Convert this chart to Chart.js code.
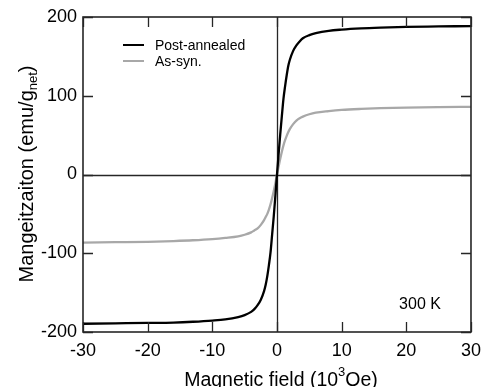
<!DOCTYPE html>
<html><head><meta charset="utf-8">
<script src="https://cdn.jsdelivr.net/npm/chart.js@4"></script>
<style>html,body{margin:0;padding:0;background:#fff}#wrap{width:489px;height:387px}</style>
</head><body><div id="wrap"><canvas id="c" width="489" height="387"></canvas></div>
<script>
const fields = [-30,-25,-20,-16,-13,-10,-8,-6,-5,-4,-3.5,-3,-2.5,-2,-1.75,-1.5,-1.25,-1,-0.75,-0.5,-0.25,0,0.25,0.5,0.75,1,1.25,1.5,1.75,2,2.5,3,3.5,4,5,6,8,10,13,16,20,25,30];
const postAnnealed = [-189.5,-189,-188.5,-188,-187,-185.5,-184,-181,-178.5,-174.5,-171,-166,-159,-148,-140,-129,-115,-99,-76,-53,-27,0,26,51,74,96,112,126,138,146,157,164,169,173,177,179.5,182.5,184,185.5,186.5,187.5,188,188.5];
const asSyn = [-86.5,-86,-85.5,-84.5,-83.5,-82,-80.5,-78.5,-76.5,-73.5,-71,-68.5,-64,-58,-54,-50,-44.5,-38,-30,-21,-11,0,10,20,29,37,43.5,49,54,58,64,68.5,71.5,73.5,76.5,78.5,80.5,82,83.3,84.2,85,85.6,86];
const seriesNames = ['Post-annealed','As-syn.'];
const xTicks = [-30,-20,-10,0,10,20,30];
const yTicks = [-200,-100,0,100,200];
const yTitleMain = 'Mangeitzaiton (emu/g', yTitleSub = 'net', yTitleEnd = ')';
const xTitleMain = 'Magnetic field (10', xTitleSup = '3', xTitleEnd = 'Oe)';
const annotation = '300 K';

const FONT = '"Liberation Sans", Arial, sans-serif';
const AX = '#262626';

const overlay = {
  id: 'overlay',
  beforeDatasetsDraw(chart) {
    const {ctx, chartArea: a, scales: {x, y}} = chart;
    ctx.save();
    ctx.strokeStyle = AX; ctx.lineWidth = 1.3;
    ctx.beginPath();
    const x0 = Math.round(x.getPixelForValue(0)) + 0.5;
    const y0 = Math.round(y.getPixelForValue(0)) + 0.5;
    ctx.moveTo(x0, a.top); ctx.lineTo(x0, a.bottom);
    ctx.moveTo(a.left, y0); ctx.lineTo(a.right, y0);
    ctx.stroke();
    ctx.restore();
  },
  afterDatasetsDraw(chart) {
    const {ctx, chartArea: a, scales: {x, y}} = chart;
    ctx.save();
    ctx.strokeStyle = AX; ctx.lineWidth = 1.3;
    const L = 10;
    ctx.beginPath();
    xTicks.forEach(v => {
      const px = Math.round(x.getPixelForValue(v)) + 0.5;
      ctx.moveTo(px, a.bottom); ctx.lineTo(px, a.bottom - L);
      ctx.moveTo(px, a.top); ctx.lineTo(px, a.top + L);
    });
    yTicks.forEach(v => {
      const py = Math.round(y.getPixelForValue(v)) + 0.5;
      ctx.moveTo(a.left, py); ctx.lineTo(a.left + L, py);
      ctx.moveTo(a.right, py); ctx.lineTo(a.right - L, py);
    });
    ctx.stroke();
    ctx.lineWidth = 1.6;
    ctx.strokeRect(a.left, a.top, a.right - a.left, a.bottom - a.top);

    // legend
    ctx.font = '14px ' + FONT; ctx.fillStyle = '#000'; ctx.textBaseline = 'middle'; ctx.textAlign = 'left';
    chart.data.datasets.forEach((ds, i) => {
      const ly = 45 + i * 16;
      ctx.strokeStyle = ds.borderColor; ctx.lineWidth = 2;
      ctx.beginPath(); ctx.moveTo(123, ly); ctx.lineTo(144, ly); ctx.stroke();
      ctx.fillText(ds.label, 155, ly + 1);
    });
    // annotation
    ctx.font = '16px ' + FONT; ctx.textAlign = 'center';
    ctx.fillText(annotation, 420, 305);

    // x title
    ctx.textAlign = 'left'; ctx.textBaseline = 'alphabetic';
    const big = '19.5px ' + FONT, small = '13px ' + FONT;
    ctx.font = big; const w1 = ctx.measureText(xTitleMain).width, w3 = ctx.measureText(xTitleEnd).width;
    ctx.font = small; const w2 = ctx.measureText(xTitleSup).width;
    const xc = (a.left + a.right) / 2 + 4;
    let sx = xc - (w1 + w2 + w3) / 2; const by = 386;
    ctx.font = big; ctx.fillText(xTitleMain, sx, by); sx += w1;
    ctx.font = small; ctx.fillText(xTitleSup, sx, by - 10); sx += w2;
    ctx.font = big; ctx.fillText(xTitleEnd, sx, by);

    // y title
    ctx.save();
    ctx.translate(33, 174);
    ctx.rotate(-Math.PI / 2);
    const bigY = '20px ' + FONT;
    ctx.font = bigY; const v1 = ctx.measureText(yTitleMain).width, v3 = ctx.measureText(yTitleEnd).width;
    ctx.font = small; const v2 = ctx.measureText(yTitleSub).width;
    let tx = -(v1 + v2 + v3) / 2;
    ctx.font = bigY; ctx.fillText(yTitleMain, tx, 0); tx += v1;
    ctx.font = small; ctx.fillText(yTitleSub, tx, 4); tx += v2;
    ctx.font = bigY; ctx.fillText(yTitleEnd, tx, 0);
    ctx.restore();
    ctx.restore();
  }
};

new Chart(document.getElementById('c'), {
  type: 'line',
  data: {
    datasets: [
      {label: seriesNames[0], data: fields.map((f, i) => ({x: f, y: postAnnealed[i]})), borderColor: '#000000', borderWidth: 2.3, pointRadius: 0, cubicInterpolationMode: 'monotone', fill: false},
      {label: seriesNames[1], data: fields.map((f, i) => ({x: f, y: asSyn[i]})), borderColor: '#a8a8a8', borderWidth: 2.3, pointRadius: 0, cubicInterpolationMode: 'monotone', fill: false}
    ]
  },
  options: {
    responsive: false, animation: false, devicePixelRatio: 1,
    layout: {padding: {top: 17, right: 12, left: 0, bottom: 0}},
    plugins: {legend: {display: false}, tooltip: {enabled: false}},
    scales: {
      x: {type: 'linear', min: -30, max: 30,
        afterBuildTicks: s => { s.ticks = xTicks.map(v => ({value: v})); },
        afterFit: s => { s.height = 55; },
        ticks: {font: {family: FONT, size: 18}, color: '#000', padding: 8, maxRotation: 0},
        grid: {display: false, drawTicks: false}, border: {display: false}},
      y: {type: 'linear', min: -200, max: 200,
        afterBuildTicks: s => { s.ticks = yTicks.map(v => ({value: v})); },
        afterFit: s => { s.width = 83; },
        ticks: {font: {family: FONT, size: 18}, color: '#000', padding: 6},
        grid: {display: false, drawTicks: false}, border: {display: false}}
    }
  },
  plugins: [overlay]
});
</script></body></html>
